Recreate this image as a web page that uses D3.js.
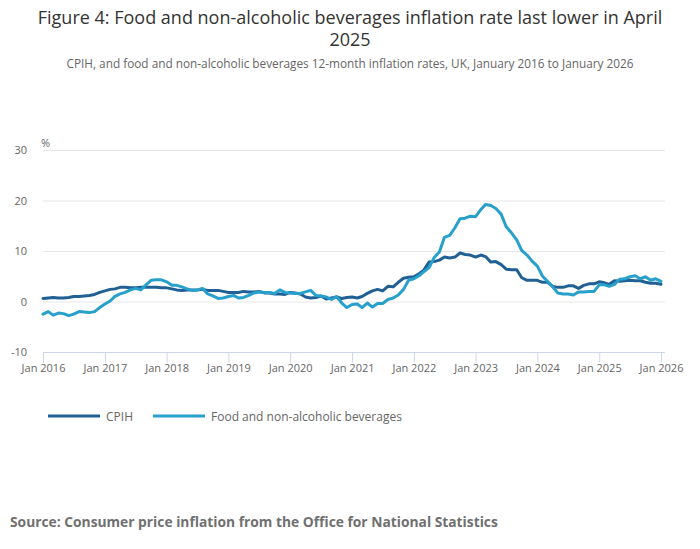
<!DOCTYPE html>
<html>
<head>
<meta charset="utf-8">
<script src="https://cdn.jsdelivr.net/npm/d3@7"></script>
<style>
  body { margin: 0; background: #fff; }
  svg { font-family: "Open Sans", sans-serif; }
</style>
</head>
<body>
<svg width="700" height="549"></svg>
<script>
// monthly values, Jan 2016 to Jan 2026
const startMonth = "2016-01";
const cpih = [
  0.6, 0.7, 0.8, 0.7, 0.7, 0.8, 1.0, 1.0, 1.1, 1.2, 1.4, 1.8,
  2.1, 2.4, 2.5, 2.8, 2.8, 2.7, 2.7, 2.8, 2.8, 2.8, 2.8, 2.7,
  2.7, 2.5, 2.3, 2.2, 2.3, 2.3, 2.3, 2.4, 2.2, 2.2, 2.2, 2.0,
  1.8, 1.8, 1.8, 2.0, 1.9, 1.9, 2.0, 1.7, 1.7, 1.5, 1.5, 1.4,
  1.8, 1.7, 1.5, 0.9, 0.7, 0.8, 1.1, 0.5, 0.7, 0.9, 0.6, 0.8,
  0.9, 0.7, 1.0, 1.6, 2.1, 2.4, 2.1, 3.0, 2.9, 3.8, 4.6, 4.8,
  4.9, 5.5, 6.2, 7.8, 7.9, 8.2, 8.8, 8.6, 8.8, 9.6, 9.3, 9.2,
  8.8, 9.2, 8.9, 7.8, 7.9, 7.3, 6.4, 6.3, 6.3, 4.7, 4.2, 4.2,
  4.2, 3.8, 3.8, 3.0, 2.8, 2.8, 3.1, 3.1, 2.6, 3.2, 3.5, 3.5,
  3.9, 3.7, 3.4, 4.1, 4.0, 4.1, 4.2, 4.1, 4.1, 3.8, 3.6, 3.6,
  3.4
];
const food = [
  -2.5, -2.0, -2.7, -2.3, -2.4, -2.8, -2.5, -2.0, -2.1, -2.2, -2.0, -1.2,
  -0.5, 0.1, 1.0, 1.5, 1.8, 2.3, 2.6, 2.3, 3.3, 4.2, 4.3, 4.3,
  3.9, 3.2, 3.2, 2.9, 2.5, 2.2, 2.3, 2.6, 1.5, 1.1, 0.6, 0.7,
  1.0, 1.2, 0.7, 0.8, 1.2, 1.7, 1.9, 1.8, 1.8, 1.6, 2.3, 1.8,
  1.7, 1.6, 1.6, 1.9, 2.2, 1.2, 1.1, 0.9, 0.4, 1.0, -0.3, -1.2,
  -0.6, -0.5, -1.2, -0.3, -1.1, -0.4, -0.4, 0.4, 0.7, 1.3, 2.4, 4.2,
  4.5, 5.1, 5.9, 6.7, 8.7, 9.8, 12.7, 13.1, 14.6, 16.4, 16.5, 16.9,
  16.8, 18.2, 19.2, 19.0, 18.4, 17.3, 14.8, 13.6, 12.2, 10.1, 9.2, 8.0,
  7.0, 5.0, 4.0, 2.9, 1.7, 1.5, 1.5, 1.3, 1.9, 1.9, 2.0, 2.0,
  3.3, 3.3, 3.0, 3.4, 4.4, 4.5, 4.9, 5.1, 4.5, 4.9, 4.2, 4.5,
  4.0
];
const yTicks = [-10, 0, 10, 20, 30];
const xTickYears = [2016, 2017, 2018, 2019, 2020, 2021, 2022, 2023, 2024, 2025, 2026];
const seriesNames = ["CPIH", "Food and non-alcoholic beverages"];
const seriesColors = ["#206095", "#27a0cc"];

const svg = d3.select("svg");
const start = d3.timeParse("%Y-%m")(startMonth);
const dates = d3.range(cpih.length).map(i => d3.timeMonth.offset(start, i));

const x = d3.scaleTime()
  .domain([dates[0], dates[dates.length - 1]])
  .range([43, 661]);
const y = d3.scaleLinear().domain([-10, 30]).range([352, 150]);

// titles
svg.append("text").attr("x", 350).attr("y", 24).attr("text-anchor", "middle")
  .attr("font-size", 18).attr("fill", "#333")
  .text("Figure 4: Food and non-alcoholic beverages inflation rate last lower in April");
svg.append("text").attr("x", 350).attr("y", 46).attr("text-anchor", "middle")
  .attr("font-size", 18).attr("fill", "#333").text("2025");
svg.append("text").attr("x", 350).attr("y", 68).attr("text-anchor", "middle")
  .attr("font-size", 11.8).attr("fill", "#666")
  .text("CPIH, and food and non-alcoholic beverages 12-month inflation rates, UK, January 2016 to January 2026");

// grid
svg.append("g").selectAll("line").data(yTicks.filter(d => d !== -10)).enter()
  .append("line")
  .attr("x1", 43).attr("x2", 665)
  .attr("y1", d => y(d) + 0.5).attr("y2", d => y(d) + 0.5)
  .attr("stroke", "#e6e6e6");

svg.append("g").selectAll("text").data(yTicks).enter()
  .append("text")
  .attr("x", 27).attr("y", d => y(d) + 4)
  .attr("text-anchor", "end").attr("font-size", 11).attr("fill", "#666")
  .text(d => d);

svg.append("text").attr("x", 41).attr("y", 147)
  .attr("font-size", 11).attr("fill", "#666").text("%");

// x axis
const xAxis = d3.axisBottom(x)
  .tickValues(xTickYears.map(yr => new Date(yr, 0, 1)))
  .tickFormat(d3.timeFormat("Jan %Y"))
  .tickSize(10)
  .tickPadding(2);
const gx = svg.append("g").attr("transform", `translate(0,${y(-10) + 0.5})`).call(xAxis);
gx.select(".domain").attr("d", "M43,0H665").attr("stroke", "#ccd6eb");
gx.selectAll(".tick line").attr("stroke", "#ccd6eb");
gx.selectAll(".tick text").attr("font-size", 11).attr("fill", "#666")
  .attr("font-family", "Open Sans, sans-serif");

// lines
const line = d3.line().x((d, i) => x(dates[i])).y(d => y(d)).curve(d3.curveLinear);
[cpih, food].forEach((s, k) => {
  svg.append("path").datum(s)
    .attr("d", line)
    .attr("fill", "none")
    .attr("stroke", seriesColors[k])
    .attr("stroke-width", 3)
    .attr("stroke-linejoin", "round")
    .attr("stroke-linecap", "round");
});

// legend
const legendX = [48, 153];
const lg = svg.append("g").selectAll("g").data(seriesNames).enter().append("g")
  .attr("transform", (d, i) => `translate(${legendX[i]},416)`);
lg.append("line").attr("x1", 0).attr("x2", 52)
  .attr("stroke", (d, i) => seriesColors[i]).attr("stroke-width", 3);
lg.append("text").attr("x", 58).attr("y", 4.5)
  .attr("font-size", 12).attr("fill", "#666").text(d => d);

// source
svg.append("text").attr("x", 10).attr("y", 527)
  .attr("font-size", 13.8).attr("font-weight", "bold").attr("fill", "#707070")
  .text("Source: Consumer price inflation from the Office for National Statistics");
</script>
</body>
</html>
